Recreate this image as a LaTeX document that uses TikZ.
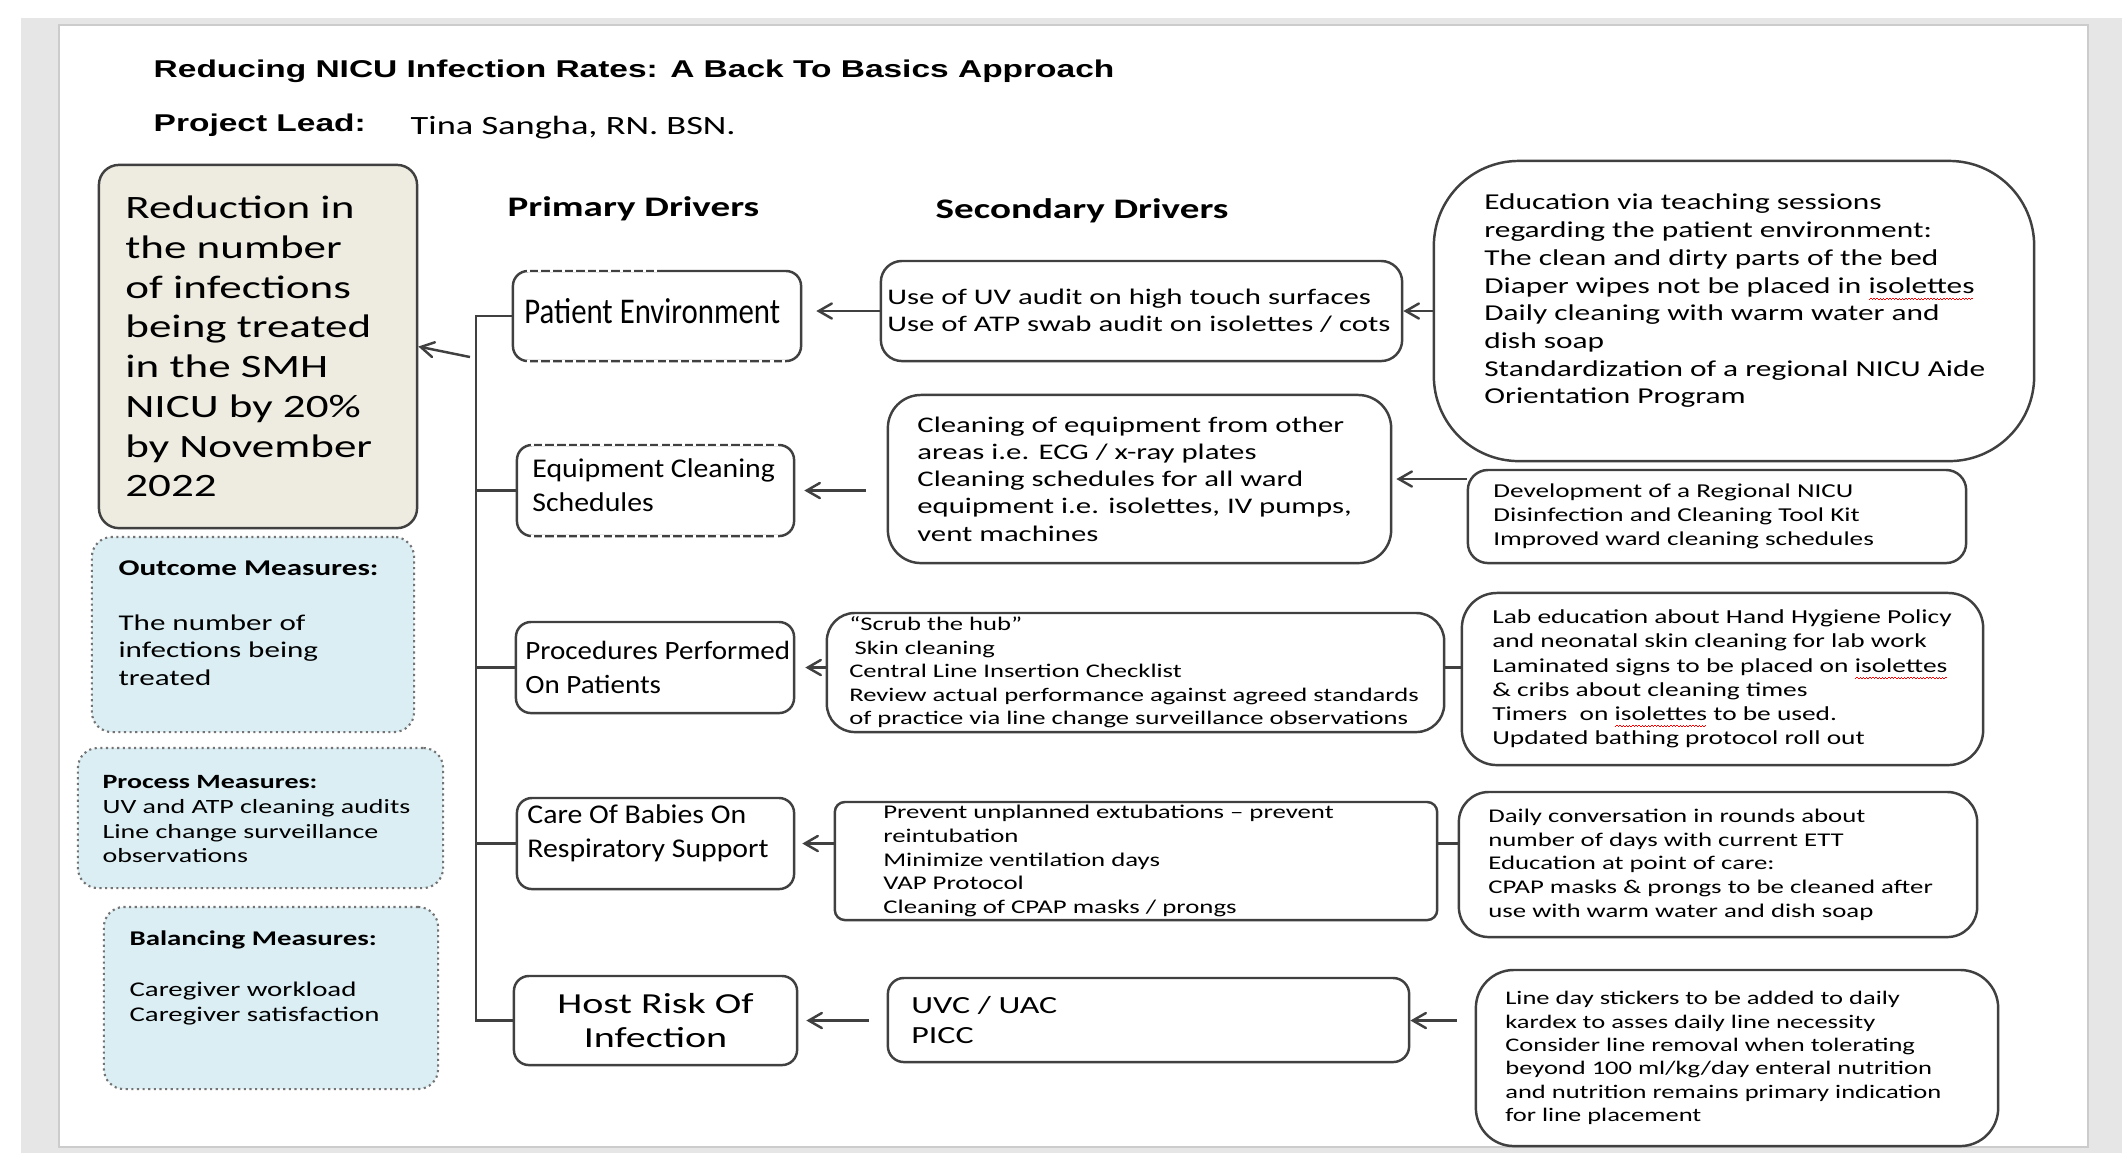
\documentclass[tikz,border=0pt]{standalone}
\usepackage{fontspec}
\setmainfont{Carlito}[FakeStretch=1.38]
\newfontfamily\arialfont{Liberation Sans}[FakeStretch=1.38]
\newfontfamily\condfont{Carlito}[FakeStretch=0.85]
\newfontfamily\midfont{Carlito}[FakeStretch=1.1]
\usetikzlibrary{arrows, positioning}

\definecolor{pagegray}{HTML}{E6E6E6}
\definecolor{goalfill}{HTML}{EEECE1}
\definecolor{measfill}{HTML}{DBEEF4}
\definecolor{edge}{HTML}{404040}

\newsavebox\spellbox
\newcommand\spellerr[1]{\sbox\spellbox{#1}\rlap{\color{red}\hbox to \wd\spellbox{\leaders\hbox{\rule[-1.9pt]{0.45pt}{0.3pt}\rule[-1.6pt]{0.45pt}{0.3pt}}\hfill}}#1}
\newcommand\txtsize[2]{\fontsize{#1}{#2}\selectfont}

\tikzset{
  box/.style={draw=edge, line width=0.7pt, rounded corners=#1, inner sep=0pt},
  box/.default=0.15cm,
  measbox/.style={draw=black!55, densely dotted, line width=0.6pt, fill=measfill, rounded corners=0.2cm, inner sep=0pt},
  txt/.style={inner sep=0pt, align=left, text=black},
  gap/.style={draw=white, line width=1.4pt, dash pattern=on 0.9pt off 2.4pt},
  link/.style={draw=edge, line width=0.7pt},
  arrow/.style={draw=edge, line width=0.7pt, ->, >=angle 60}
}

\begin{document}
\begin{tikzpicture}[x=0.01cm, y=-0.01cm]
  \useasboundingbox (0,0) rectangle (2122,1153);
  \fill[white] (0,0) rectangle (2122,1153);
  \fill[pagegray] (21,18) rectangle (2122,1153);
  \filldraw[fill=white, draw=black!20, line width=0.6pt] (59,25) rectangle (2088,1147);

  \node[anchor=base west, inner sep=0pt, font=\arialfont\bfseries\txtsize{6.9}{8.5}] (title) at (153,77) {Reducing NICU Infection Rates: A Back To Basics Approach};
  \node[anchor=base west, inner sep=0pt, font=\arialfont\bfseries\txtsize{6.9}{8.5}] (leadlbl) at (153,131) {Project Lead:};
  \node[anchor=base west, inner sep=0pt, font=\txtsize{7.5}{9}] (lead) at (410,134) {Tina Sangha, RN. BSN.};

  \node[anchor=base west, inner sep=0pt, font=\bfseries\txtsize{8.05}{9.7}] (prim) at (507,216) {Primary Drivers};
  \node[anchor=base west, inner sep=0pt, font=\bfseries\txtsize{8.05}{9.7}] (sec) at (935,218) {Secondary Drivers};

  \node[box=0.2cm, fill=goalfill, minimum width=3.18cm, minimum height=3.63cm] (goal) at (258,346.5) {};
  \node[txt, right=0.27cm of goal.west, font=\txtsize{9.28}{11.3}] (goaltxt) {Reduction in\\the number\\of infections\\being treated\\in the SMH\\NICU by 20\%\\by November\\2022};

  \node[measbox, minimum width=3.22cm, minimum height=1.95cm] (outcome) at (253,634.5) {};
  \node[txt, below right=0.24cm and 0.27cm of outcome.north west, font=\txtsize{6.4}{7.8}] (outtxt) {\textbf{Outcome Measures:}\\[7.8pt]The number of\\infections being\\treated};
  \node[measbox, minimum width=3.65cm, minimum height=1.40cm] (process) at (260.5,818) {};
  \node[txt, below right=0.28cm and 0.25cm of process.north west, font=\txtsize{5.76}{7.03}] (proctxt) {\textbf{Process Measures:}\\UV and ATP cleaning audits\\Line change surveillance\\observations};
  \node[measbox, minimum width=3.34cm, minimum height=1.82cm] (balance) at (271,998) {};
  \node[txt, below right=0.24cm and 0.26cm of balance.north west, font=\txtsize{5.95}{7.26}] (baltxt) {\textbf{Balancing Measures:}\\[7.26pt]Caregiver workload\\Caregiver satisfaction};

  \node[box, minimum width=2.88cm, minimum height=0.90cm] (p1) at (657,316) {};
  \node[txt, right=0.12cm of p1.west, yshift=0.05cm, font=\condfont\txtsize{10.3}{12}] (p1txt) {Patient Environment};
  \node[box, minimum width=2.77cm, minimum height=0.91cm] (p2) at (655.5,490.5) {};
  \node[txt, right=0.16cm of p2.west, yshift=0.05cm, font=\midfont\txtsize{7.7}{9.7}] (p2txt) {Equipment Cleaning\\Schedules};
  \node[box, minimum width=2.78cm, minimum height=0.91cm] (p3) at (655,667.5) {};
  \node[txt, right=0.10cm of p3.west, font=\midfont\txtsize{7.5}{9.7}] (p3txt) {Procedures Performed\\On Patients};
  \node[box, minimum width=2.77cm, minimum height=0.91cm] (p4) at (655.5,843.5) {};
  \node[txt, right=0.11cm of p4.west, yshift=0.1cm, font=\midfont\txtsize{7.7}{9.7}] (p4txt) {Care Of Babies On\\Respiratory Support};
  \node[box, minimum width=2.83cm, minimum height=0.89cm, align=center, font=\txtsize{8.25}{9.7}] (p5) at (655.5,1020.5) {Host Risk Of\\Infection};

  \draw[gap, shorten <=0.15cm] (p1.north west) -- (p1.north);
  \draw[gap, shorten <=0.15cm, shorten >=0.15cm] (p1.south west) -- (p1.south east);
  \draw[gap, shorten <=0.15cm, shorten >=0.15cm] (p2.north west) -- (p2.north east);
  \draw[gap, shorten <=0.15cm, shorten >=0.15cm] (p2.south west) -- (p2.south east);

  \node[box=0.21cm, minimum width=5.21cm, minimum height=1.00cm] (s1) at (1141.5,311) {};
  \node[txt, right=0.07cm of s1.west, font=\txtsize{6.34}{7.74}] (s1txt) {Use of UV audit on high touch surfaces\\Use of ATP swab audit on isolettes / cots};
  \node[box=0.33cm, minimum width=5.03cm, minimum height=1.68cm] (s2) at (1139.5,479) {};
  \node[txt, right=0.30cm of s2.west, font=\txtsize{6.34}{7.74}] (s2txt) {Cleaning of equipment from other\\areas i.e. ECG / x-ray plates\\Cleaning schedules for all ward\\equipment i.e. isolettes, IV pumps,\\vent machines};
  \node[box=0.28cm, minimum width=6.17cm, minimum height=1.19cm] (s3) at (1135.5,672.5) {};
  \node[txt, right=0.23cm of s3.west, font=\txtsize{5.48}{6.69}] (s3txt) {“Scrub the hub”\\\hspace*{1.5pt}Skin cleaning\\Central Line Insertion Checklist\\Review actual performance against agreed standards\\of practice via line change surveillance observations};
  \node[box=0.1cm, minimum width=6.02cm, minimum height=1.18cm] (s4) at (1136,861) {};
  \node[txt, right=0.49cm of s4.west, font=\txtsize{5.52}{6.74}] (s4txt) {Prevent unplanned extubations -- prevent\\reintubation\\Minimize ventilation days\\VAP Protocol\\Cleaning of CPAP masks / prongs};
  \node[box=0.16cm, minimum width=5.21cm, minimum height=0.84cm] (s5) at (1148.5,1020) {};
  \node[txt, right=0.24cm of s5.west, font=\txtsize{7.0}{8.54}] (s5txt) {UVC / UAC\\PICC};

  \node[box=0.85cm, minimum width=6.00cm, minimum height=3.00cm] (t1) at (1734,311) {};
  \node[txt, right=0.51cm of t1.west, yshift=0.1cm, font=\txtsize{6.46}{7.88}] (t1txt) {Education via teaching sessions\\regarding the patient environment:\\The clean and dirty parts of the bed\\Diaper wipes not be placed in \spellerr{isolettes}\\Daily cleaning with warm water and\\dish soap\\Standardization of a regional NICU Aide\\Orientation Program};
  \node[box=0.2cm, minimum width=4.98cm, minimum height=0.93cm] (t2) at (1717,516.5) {};
  \node[txt, right=0.26cm of t2.west, font=\txtsize{5.6}{6.83}] (t2txt) {Development of a Regional NICU\\Disinfection and Cleaning Tool Kit\\Improved ward cleaning schedules};
  \node[box=0.35cm, minimum width=5.21cm, minimum height=1.72cm] (t3) at (1722.5,679) {};
  \node[txt, right=0.31cm of t3.west, font=\txtsize{5.64}{6.89}] (t3txt) {Lab education about Hand Hygiene Policy\\and neonatal skin cleaning for lab work\\Laminated signs to be placed on \spellerr{isolettes}\\\& cribs about cleaning times\\Timers\ \ on \spellerr{isolettes} to be used.\\Updated bathing protocol roll out};
  \node[box=0.3cm, minimum width=5.18cm, minimum height=1.45cm] (t4) at (1718,864.5) {};
  \node[txt, right=0.30cm of t4.west, font=\txtsize{5.52}{6.74}] (t4txt) {Daily conversation in rounds about\\number of days with current ETT\\Education at point of care:\\CPAP masks \& prongs to be cleaned after\\use with warm water and dish soap};
  \node[box=0.38cm, minimum width=5.22cm, minimum height=1.76cm] (t5) at (1737,1058) {};
  \node[txt, right=0.30cm of t5.west, font=\txtsize{5.46}{6.66}] (t5txt) {Line day stickers to be added to daily\\kardex to asses daily line necessity\\Consider line removal when tolerating\\beyond 100 ml/kg/day enteral nutrition\\and nutrition remains primary indication\\for line placement};

  \coordinate (trunk) at (476,0);
  \coordinate (gfoot) at (470,357);
  \draw[link] (p1.west) -| (p5.west -| trunk) -- (p5.west);
  \foreach \n in {p2,p3,p4}
    \draw[link] (\n.west) -- (\n.west -| trunk);
  \draw[arrow] (gfoot) -- (goal.east);

  \draw[arrow, shorten >=0.14cm] (s1.west) -- (s1.west -| p1.east);
  \draw[arrow, shorten <=0.21cm, shorten >=0.09cm] (p2.east -| s2.west) -- (p2.east);
  \draw[arrow, shorten >=0.1cm] (p3.east -| s3.west) -- (p3.east);
  \draw[arrow, shorten >=0.07cm] (p4.east -| s4.west) -- (p4.east);
  \draw[arrow, shorten <=0.18cm, shorten >=0.08cm] (p5.east -| s5.west) -- (p5.east);

  \draw[arrow] (t1.west) -- (t1.west -| s1.east);
  \draw[arrow, shorten >=0.04cm] (s2.east -| t2.west) -- (s2.east);
  \draw[link] (p3.east -| s3.east) -- (p3.east -| t3.west);
  \draw[link] (p4.east -| s4.east) -- (p4.east -| t4.west);
  \draw[arrow, shorten <=0.18cm] (p5.east -| t5.west) -- (p5.east -| s5.east);
\end{tikzpicture}
\end{document}
